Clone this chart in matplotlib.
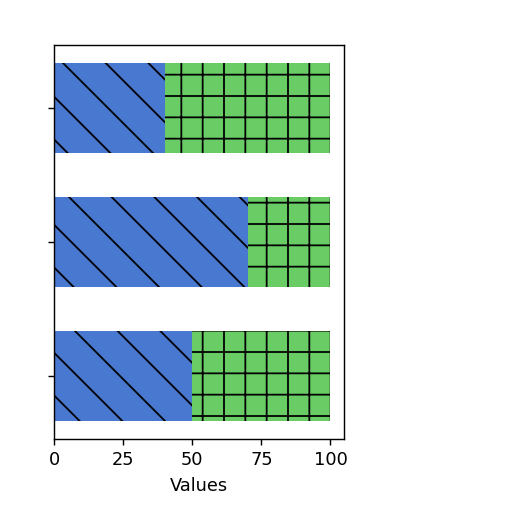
import matplotlib.pyplot as plt
import numpy as np

# bottom to top
categories = ["A", "B", "C"]
blue_values = [50, 70, 40]
green_values = [50, 30, 60]

fig = plt.figure(figsize=(4, 4), dpi=128)
ax = fig.add_axes([0.1055, 0.1426, 0.567, 0.769])

y = np.arange(len(categories))
ax.barh(y, blue_values, height=0.67, color="#4878D0", hatch="\\")
ax.barh(y, green_values, left=blue_values, height=0.67, color="#6ACC64", hatch="+")

ax.set_yticks(y)
ax.set_yticklabels([])
ax.set_xticks([0, 25, 50, 75, 100])
ax.set_xlabel("Values")

fig.savefig("out.png", dpi=128)
